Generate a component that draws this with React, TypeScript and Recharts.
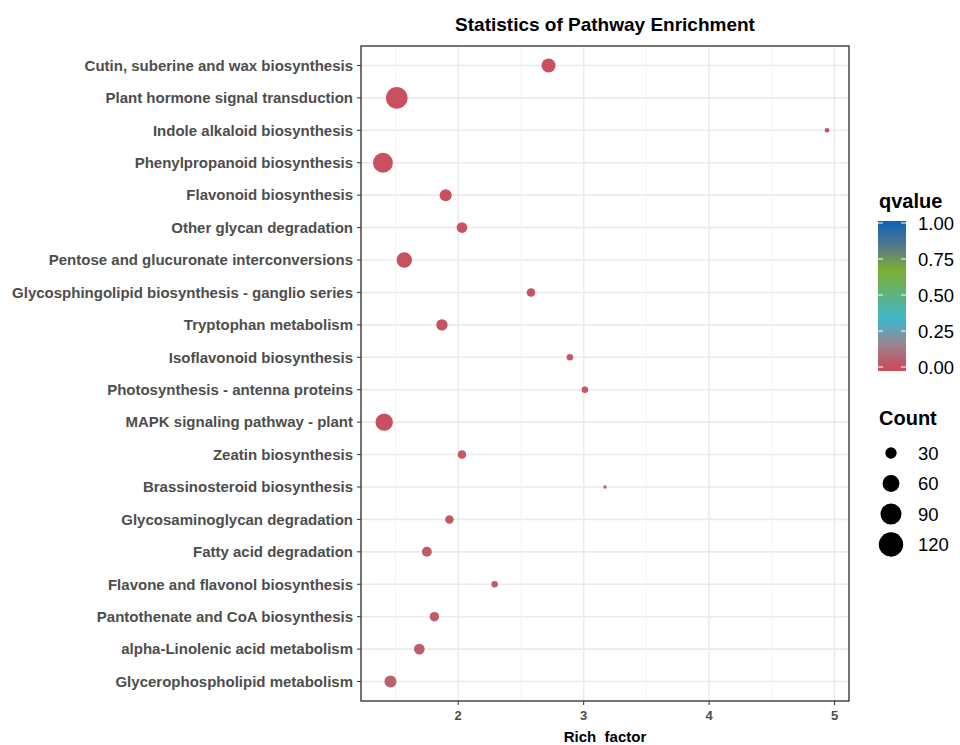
import React from 'react'
import {
  ScatterChart, Scatter, XAxis, YAxis, CartesianGrid, ReferenceLine
} from 'recharts'

const FONT = '"Liberation Sans", Arial, sans-serif'

const pathways = [
  'Cutin, suberine and wax biosynthesis',
  'Plant hormone signal transduction',
  'Indole alkaloid biosynthesis',
  'Phenylpropanoid biosynthesis',
  'Flavonoid biosynthesis',
  'Other glycan degradation',
  'Pentose and glucuronate interconversions',
  'Glycosphingolipid biosynthesis - ganglio series',
  'Tryptophan metabolism',
  'Isoflavonoid biosynthesis',
  'Photosynthesis - antenna proteins',
  'MAPK signaling pathway - plant',
  'Zeatin biosynthesis',
  'Brassinosteroid biosynthesis',
  'Glycosaminoglycan degradation',
  'Fatty acid degradation',
  'Flavone and flavonol biosynthesis',
  'Pantothenate and CoA biosynthesis',
  'alpha-Linolenic acid metabolism',
  'Glycerophospholipid metabolism',
]

const richFactor = [
  2.72, 1.51, 4.94, 1.40, 1.90, 2.03, 1.57, 2.58, 1.87, 2.89,
  3.01, 1.41, 2.03, 3.17, 1.93, 1.75, 2.29, 1.81, 1.69, 1.46,
]

const geneCount = [
  43, 95, 9, 82, 33, 27, 51, 19, 30, 13,
  13, 63, 19, 7, 19, 24, 13, 22, 27, 33,
]

const qvalue = [
  0.0, 0.0, 0.01, 0.0, 0.0, 0.005, 0.0, 0.01, 0.01, 0.015,
  0.015, 0.0, 0.02, 0.02, 0.03, 0.035, 0.035, 0.035, 0.04, 0.055,
]

const xTicks = [2, 3, 4, 5]
const minorXTicks = [1.5, 2.5, 3.5, 4.5]
const qBreaks = [1, 0.75, 0.5, 0.25, 0]
const countBreaks = [30, 60, 90, 120]

// colour scale for qvalue (red -> cyan -> green -> blue)
const qStops = [
  { at: 0, c: [200, 80, 95] },
  { at: 1 / 6, c: [150, 135, 148] },
  { at: 1 / 3, c: [62, 182, 203] },
  { at: 2 / 3, c: [126, 175, 51] },
  { at: 5 / 6, c: [88, 122, 135] },
  { at: 1, c: [16, 100, 180] },
]

function colorOf(q: number) {
  for (let i = 1; i < qStops.length; i++) {
    const a = qStops[i - 1], b = qStops[i]
    if (q <= b.at) {
      const t = (q - a.at) / (b.at - a.at)
      const c = a.c.map((v, k) => Math.round(v + (b.c[k] - v) * t))
      return `rgb(${c[0]},${c[1]},${c[2]})`
    }
  }
  const c = qStops[qStops.length - 1].c
  return `rgb(${c[0]},${c[1]},${c[2]})`
}

// point radius from gene count (area grows linearly with count)
function radiusOf(count: number) {
  return Math.sqrt(Math.max(0.5, -6.3 + 1.292 * count))
}

const data = pathways.map((name, i) => ({
  name,
  y: i + 1,
  x: richFactor[i],
  count: geneCount[i],
  q: qvalue[i],
}))

const yTicks = pathways.map((_, i) => i + 1)

const PointShape = (props: any) => {
  const p = props.payload ?? props
  return <circle cx={props.cx} cy={props.cy} r={radiusOf(p.count)} fill={colorOf(p.q)} />
}

function Legends() {
  const barTop = 221, barBottom = 371
  const q0 = 367, q1 = 223
  const qy = (q: number) => q0 + (q1 - q0) * q
  return (
    <svg width={960} height={745} style={{ position: 'absolute', left: 0, top: 0, pointerEvents: 'none' }}>
      <defs>
        <linearGradient id="qbar" x1="0" y1="1" x2="0" y2="0">
          {qStops.map((s, i) => (
            <stop key={i} offset={`${(s.at * (q0 - q1) + (barBottom - q0)) / (barBottom - barTop) * 100}%`}
              stopColor={`rgb(${s.c.join(',')})`} />
          ))}
        </linearGradient>
      </defs>
      <text x={605} y={31} textAnchor="middle" fontFamily={FONT} fontWeight="bold" fontSize={19} fill="#000">
        Statistics of Pathway Enrichment
      </text>
      <rect x={361} y={46} width={488} height={655} fill="none" stroke="#333333" strokeWidth={1.3} />

      <text x={879} y={208} fontFamily={FONT} fontWeight="bold" fontSize={20} fill="#000">qvalue</text>
      <rect x={878} y={barTop} width={28} height={barBottom - barTop} fill="url(#qbar)" />
      {qBreaks.map(q => (
        <g key={q}>
          <line x1={878} x2={883} y1={qy(q)} y2={qy(q)} stroke="#fff" strokeWidth={1} />
          <line x1={901} x2={906} y1={qy(q)} y2={qy(q)} stroke="#fff" strokeWidth={1} />
          <text x={918} y={qy(q)} dy="0.36em" fontFamily={FONT} fontSize={18.5} fill="#000">{q.toFixed(2)}</text>
        </g>
      ))}

      <text x={879} y={425} fontFamily={FONT} fontWeight="bold" fontSize={20} fill="#000">Count</text>
      {countBreaks.map((c, i) => (
        <g key={c}>
          <circle cx={891} cy={453 + i * 30.5} r={radiusOf(c)} fill="#000" />
          <text x={918} y={453 + i * 30.5} dy="0.36em" fontFamily={FONT} fontSize={18.5} fill="#000">{c}</text>
        </g>
      ))}
    </svg>
  )
}

export default function App() {
  return (
    <div style={{ position: 'absolute', left: 0, top: 0, width: 960, height: 745, background: '#fff' }}>
      <ScatterChart width={960} height={745} margin={{ top: 46, right: 111, bottom: 0, left: 0 }}>
        <CartesianGrid stroke="#EBEBEB" strokeWidth={1.6} />
        {minorXTicks.map(v => (
          <ReferenceLine key={v} x={v} stroke="#F2F2F2" strokeWidth={0.9} />
        ))}
        <XAxis
          type="number"
          dataKey="x"
          domain={[1.225, 5.115]}
          ticks={xTicks}
          allowDataOverflow
          height={44}
          axisLine={false}
          tickSize={4}
          tickMargin={6}
          tickLine={{ stroke: '#333333' }}
          tick={{ fill: '#4D4D4D', fontSize: 13, fontWeight: 'bold', fontFamily: FONT }}
          label={{
            value: 'Rich\u00A0 factor',
            position: 'insideBottom',
            offset: 3,
            style: { fill: '#000', fontSize: 15, fontWeight: 'bold', fontFamily: FONT },
          }}
        />
        <YAxis
          type="number"
          dataKey="y"
          domain={[0.4, 20.6]}
          ticks={yTicks}
          interval={0}
          reversed
          allowDataOverflow
          width={361}
          axisLine={false}
          tickSize={4}
          tickMargin={4}
          tickLine={{ stroke: '#333333' }}
          tickFormatter={(v: number) => pathways[v - 1] ?? ''}
          tick={{ fill: '#4D4D4D', fontSize: 15, fontWeight: 'bold', fontFamily: FONT }}
        />
        <Scatter data={data} shape={PointShape} isAnimationActive={false} />
      </ScatterChart>
      <Legends />
    </div>
  )
}
